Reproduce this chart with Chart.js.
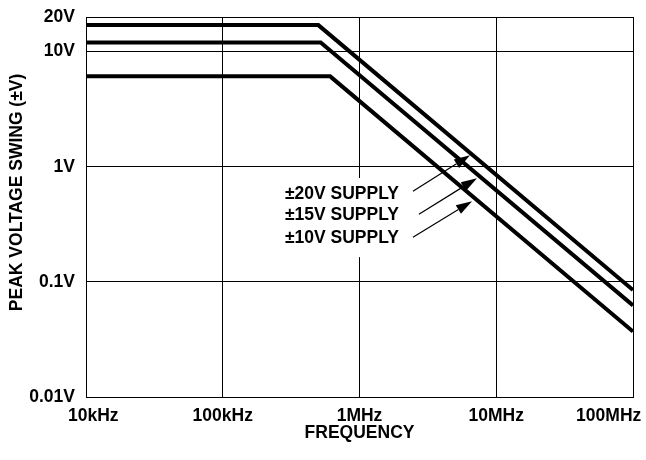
<!DOCTYPE html>
<html>
<head>
<meta charset="utf-8">
<script src="https://cdn.jsdelivr.net/npm/chart.js@4.4.0/dist/chart.umd.min.js"></script>
<style>
  body { margin: 0; background: #fff; }
</style>
</head>
<body>
<canvas id="swingChart" width="646" height="460"></canvas>
<script>
// corner points of each curve: frequency (Hz) and peak swing (V)
const freq20 = [1e4, 5.0e5, 1e8];
const swing20 = [17, 17, 0.085];
const freq15 = [1e4, 5.2e5, 1e8];
const swing15 = [12, 12, 0.0624];
const freq10 = [1e4, 6.1e5, 1e8];
const swing10 = [6.1, 6.1, 0.037];

const xTicks = [1e4, 1e5, 1e6, 1e7, 1e8];
const xTickLabels = ["10kHz", "100kHz", "1MHz", "10MHz", "100MHz"];
const yTicks = [0.01, 0.1, 1, 10, 20];
const yTickLabels = ["0.01V", "0.1V", "1V", "10V", "20V"];

// annotation text and arrows, in data units
const supplyNames = ["±20V SUPPLY", "±15V SUPPLY", "±10V SUPPLY"];
const noteFreq = 2.85e5;
const noteSwing = [0.58, 0.38, 0.24];
const arrowTailFreq = [2.46e6, 2.72e6, 2.46e6];
const arrowTailSwing = [0.614, 0.387, 0.244];
const arrowTipFreq = [6.43e6, 7.23e6, 6.65e6];
const arrowTipSwing = [1.26, 0.796, 0.502];

const FONT = "'Liberation Sans', Arial, sans-serif";

function toPoints(xs, ys) {
  return xs.map((x, i) => ({ x: x, y: ys[i] }));
}

function curve(xs, ys) {
  return {
    data: toPoints(xs, ys),
    showLine: true,
    borderColor: "#000",
    borderWidth: 4,
    borderJoinStyle: "miter",
    pointRadius: 0,
    tension: 0,
  };
}

// white box with the supply labels, then the arrows on top of the curves
const supplyNotes = {
  id: "supplyNotes",
  beforeDatasetsDraw(chart) {
    const ctx = chart.ctx;
    const xs = chart.scales.x;
    const ys = chart.scales.y;
    const left = xs.getPixelForValue(noteFreq);
    const rows = noteSwing.map((v) => ys.getPixelForValue(v));
    ctx.save();
    ctx.font = "bold 17.5px " + FONT;
    let w = 0;
    supplyNames.forEach((t) => { w = Math.max(w, ctx.measureText(t).width); });
    ctx.fillStyle = "#fff";
    ctx.fillRect(left - 4, rows[0] - 16, w + 8, rows[rows.length - 1] - rows[0] + 35);
    ctx.fillStyle = "#000";
    ctx.textBaseline = "middle";
    ctx.textAlign = "left";
    supplyNames.forEach((t, i) => ctx.fillText(t, left, rows[i]));
    ctx.restore();
  },
  afterDatasetsDraw(chart) {
    const ctx = chart.ctx;
    const xs = chart.scales.x;
    const ys = chart.scales.y;
    ctx.save();
    ctx.strokeStyle = "#000";
    ctx.fillStyle = "#000";
    ctx.lineWidth = 1.2;
    for (let i = 0; i < arrowTipFreq.length; i++) {
      const x0 = xs.getPixelForValue(arrowTailFreq[i]);
      const y0 = ys.getPixelForValue(arrowTailSwing[i]);
      const x1 = xs.getPixelForValue(arrowTipFreq[i]);
      const y1 = ys.getPixelForValue(arrowTipSwing[i]);
      const a = Math.atan2(y1 - y0, x1 - x0);
      const len = 16, half = 5;
      const bx = x1 - len * Math.cos(a), by = y1 - len * Math.sin(a);
      ctx.beginPath();
      ctx.moveTo(x0, y0);
      ctx.lineTo(bx, by);
      ctx.stroke();
      ctx.beginPath();
      ctx.moveTo(x1, y1);
      ctx.lineTo(bx + half * Math.sin(a), by - half * Math.cos(a));
      ctx.lineTo(bx - half * Math.sin(a), by + half * Math.cos(a));
      ctx.closePath();
      ctx.fill();
    }
    ctx.restore();
  },
};

Chart.defaults.color = "#000";
Chart.defaults.font.family = FONT;

const ctx = document.getElementById("swingChart").getContext("2d");
const swingChart = new Chart(ctx, {
  type: "scatter",
  data: {
    datasets: [curve(freq20, swing20), curve(freq15, swing15), curve(freq10, swing10)],
  },
  options: {
    responsive: false,
    animation: false,
    devicePixelRatio: 1,
    layout: { padding: { top: 17, right: 13, left: 0, bottom: 0 } },
    plugins: {
      legend: { display: false },
      tooltip: { enabled: false },
    },
    scales: {
      x: {
        type: "logarithmic",
        min: 1e4,
        max: 1e8,
        afterBuildTicks: (scale) => {
          scale.ticks = xTicks.map((v) => ({ value: v }));
        },
        afterFit: (scale) => {
          scale.height = 63;
          scale.paddingLeft = 0;
          scale.paddingRight = 0;
        },
        ticks: {
          autoSkip: false,
          maxRotation: 0,
          minRotation: 0,
          padding: 9,
          font: { size: 17.5, weight: "bold" },
          callback: (value, index) => {
            // nudge the end labels inward like the original
            if (index === 0) return "   " + xTickLabels[index];
            if (index === xTickLabels.length - 1) return xTickLabels[index] + " ".repeat(10);
            return xTickLabels[index];
          },
        },
        grid: { color: "#000", lineWidth: 1, drawTicks: false },
        border: { display: true, color: "#000", width: 1 },
        title: {
          display: true,
          text: "FREQUENCY",
          font: { size: 17.5, weight: "bold" },
          padding: { top: 0, bottom: 16 },
        },
      },
      y: {
        type: "logarithmic",
        min: 0.01,
        max: 20,
        afterBuildTicks: (scale) => {
          scale.ticks = yTicks.map((v) => ({ value: v }));
        },
        afterFit: (scale) => {
          scale.width = 86;
          scale.paddingTop = 0;
          scale.paddingBottom = 0;
        },
        ticks: {
          padding: 11,
          font: { size: 17.5, weight: "bold" },
          callback: (value, index) => yTickLabels[index],
        },
        grid: { color: "#000", lineWidth: 1, drawTicks: false },
        border: { display: true, color: "#000", width: 1 },
        title: {
          display: true,
          text: "      PEAK VOLTAGE SWING (±V)",
          font: { size: 17.5, weight: "bold" },
          padding: { top: 7, bottom: 0 },
        },
      },
    },
  },
  plugins: [supplyNotes],
});
</script>
</body>
</html>
